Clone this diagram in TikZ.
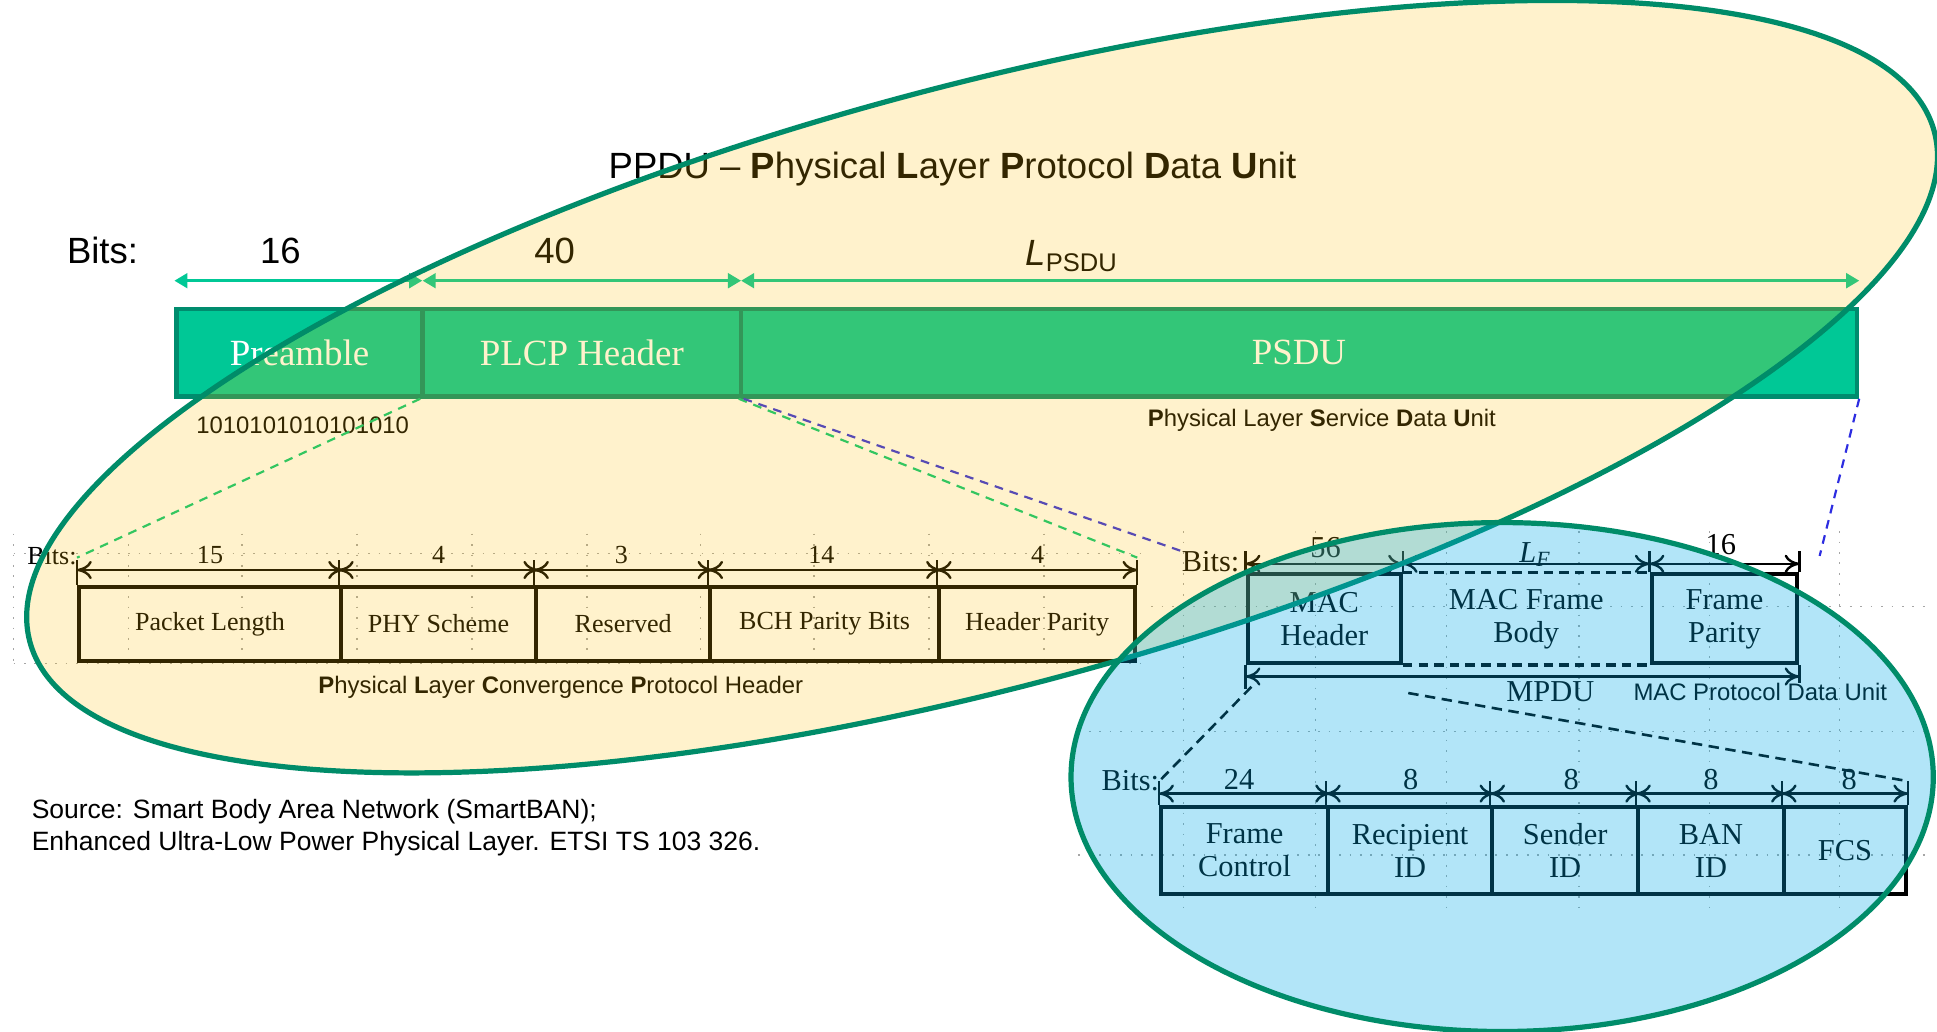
\documentclass[tikz,border=0pt]{standalone}
\usepackage{fontspec}
\setmainfont{Liberation Sans}
\newfontfamily\timesfont{Liberation Serif}
\usetikzlibrary{arrows.meta}

\definecolor{barteal}{RGB}{0,200,150}
\definecolor{barline}{RGB}{0,140,110}
\definecolor{ringgreen}{RGB}{0,140,105}
\definecolor{goldfill}{RGB}{255,190,0}
\definecolor{skyfill}{RGB}{0,172,232}
\definecolor{linkgreen}{RGB}{0,200,120}
\definecolor{linkblue}{RGB}{45,45,225}

\begin{document}
\begin{tikzpicture}[x=0.01cm, y=-0.01cm]
        % Define styles
        \tikzset{
            fieldbox/.style={rectangle, draw=barline, line width=1pt, fill=barteal, text=white, inner sep=0pt, minimum height=0.71cm, font=\timesfont\fontsize{8.5}{10}\selectfont},
            bitbox/.style={rectangle, draw, line width=0.9pt, inner sep=0pt, minimum height=0.60cm, font=\timesfont\fontsize{6}{7}\selectfont},
            macbox/.style={rectangle, draw, line width=0.9pt, inner sep=0pt, align=center, font=\timesfont\fontsize{7}{7.6}\selectfont},
            toplabel/.style={inner sep=0pt, font=\fontsize{8.4}{10}\selectfont},
            smalllabel/.style={inner sep=0pt, font=\fontsize{5.5}{6.6}\selectfont},
            serlabel/.style={inner sep=0pt, font=\timesfont\fontsize{6}{7}\selectfont},
            maclabel/.style={inner sep=0pt, font=\timesfont\fontsize{7}{8}\selectfont},
            toparrow/.style={{Triangle[length=3pt,width=3.4pt]}-{Triangle[length=3pt,width=3.4pt]}, draw=barteal, line width=0.6pt},
            dimarrow/.style={{To[length=3.4pt,width=4.2pt]}-{To[length=3.4pt,width=4.2pt]}, line width=0.55pt},
            dimtick/.style={line width=0.55pt},
            linkline/.style={line width=0.5pt, dash pattern=on 2pt off 1.6pt},
            griddot/.style={gray!70, line width=0.35pt, dash pattern=on 0.4pt off 2pt},
            ring/.style={draw=ringgreen, line width=1.2pt}
        }
        \useasboundingbox (0,0) rectangle (1568,835);
        \fill[white] (0,0) rectangle (1568,835);

        % Grid of the pasted figures
        \draw[griddot] (11,432) -- (11,540) (104,432) -- (104,540) (196,432) -- (196,540) (289,432) -- (289,540) (382,432) -- (382,540) (475,432) -- (475,540) (567,432) -- (567,540) (659,432) -- (659,540) (752,432) -- (752,540) (845,432) -- (845,540);
        \draw[griddot] (11,448) -- (925,448) (11,537) -- (925,537);
        \draw[griddot] (958,430) -- (958,735) (1065,430) -- (1065,735) (1171,430) -- (1171,735) (1278,430) -- (1278,735) (1384,430) -- (1384,735) (1489,430) -- (1489,735);
        \draw[griddot] (932,491) -- (1559,491) (873,592) -- (1559,592) (873,692) -- (1559,692);

        % Nodes
        \node[toplabel] (ppdu_title) at (771,137) {PPDU – \textbf{P}hysical \textbf{L}ayer \textbf{P}rotocol \textbf{D}ata \textbf{U}nit};
        \node[toplabel] (bits_top) at (83,203) {Bits:};
        \node[toplabel] (len_preamble) at (227,203) {16};
        \node[toplabel] (len_plcp) at (449,203) {40};
        \node[toplabel] (len_psdu) at (868,207) {\textit{L}\textsubscript{PSDU}};
        \node[fieldbox, minimum width=1.99cm] (field_node_1) at (242.5,285.5) {Preamble};
        \node[fieldbox, minimum width=2.58cm] (field_node_2) at (471,285.5) {PLCP Header};
        \node[fieldbox, minimum width=9.03cm] (field_node_3) at (1051.5,285.5) {PSDU};
        \node[smalllabel] (preamble_bits) at (245,344) {1010101010101010};
        \node[smalllabel] (psdu_caption) at (1070,340) {\textbf{P}hysical Layer \textbf{S}ervice \textbf{D}ata \textbf{U}nit};

        % PLCP header
        \node[serlabel] (bits_plcp) at (42,450) {Bits:};
        \node[bitbox, minimum width=2.12cm] (plcp_node_1) at (170,505) {Packet Length};
        \node[bitbox, minimum width=1.58cm] (plcp_node_2) at (355,505) {PHY Scheme};
        \node[bitbox, minimum width=1.41cm] (plcp_node_3) at (504.5,505) {Reserved};
        \node[bitbox, minimum width=1.85cm] (plcp_node_4) at (667.5,505) {BCH Parity Bits};
        \node[bitbox, minimum width=1.59cm] (plcp_node_5) at (839.5,505) {Header Parity};
        \node[serlabel] () at (170,449) {15};
        \node[serlabel] () at (355,449) {4};
        \node[serlabel] () at (503,449) {3};
        \node[serlabel] () at (665,449) {14};
        \node[serlabel] () at (840,449) {4};
        \node[smalllabel] (plcp_caption) at (454,556) {\textbf{P}hysical \textbf{L}ayer \textbf{C}onvergence \textbf{P}rotocol Header};

        % MAC frame
        \node[maclabel] (bits_mac) at (980,455) {Bits:};
        \node[macbox, minimum width=1.24cm, minimum height=0.72cm] (mac_node_1) at (1072,501) {MAC\\Header};
        \node[macbox, draw=none, minimum width=2.03cm, minimum height=0.72cm] (mac_node_2) at (1235.5,501) {MAC Frame\\Body};
        \node[macbox, minimum width=1.18cm, minimum height=0.72cm] (mac_node_3) at (1396,501) {Frame\\Parity};
        \node[maclabel] () at (1073,443) {56};
        \node[maclabel] () at (1243,449) {\itshape L\textsubscript{F}};
        \node[maclabel] () at (1393,441) {16};
        \node[maclabel] (mpdu_label) at (1255,560) {MPDU};
        \node[smalllabel] (mpdu_caption) at (1425,560) {MAC Protocol Data Unit};
        \coordinate (mac_corner) at (1473,450);
        \coordinate (mpdu_start) at (1013,556);
        \coordinate (mpdu_split) at (1140,561);

        % MAC header fields
        \node[maclabel] (bits_hdr) at (915,632) {Bits:};
        \node[macbox, minimum width=1.35cm, minimum height=0.71cm] (hdr_node_1) at (1007.5,688.5) {Frame\\Control};
        \node[macbox, minimum width=1.33cm, minimum height=0.71cm] (hdr_node_2) at (1141.5,688.5) {Recipient\\ID};
        \node[macbox, minimum width=1.18cm, minimum height=0.71cm] (hdr_node_3) at (1267,688.5) {Sender\\ID};
        \node[macbox, minimum width=1.18cm, minimum height=0.71cm] (hdr_node_4) at (1385,688.5) {BAN\\ID};
        \node[macbox, minimum width=0.99cm, minimum height=0.71cm] (hdr_node_5) at (1493.5,688.5) {FCS};
        \node[maclabel] () at (1003,631) {24};
        \node[maclabel] () at (1142,631) {8};
        \node[maclabel] () at (1272,631) {8};
        \node[maclabel] () at (1385,631) {8};
        \node[maclabel] () at (1497,631) {8};

        \node[smalllabel, anchor=west, align=left, font=\fontsize{6.1}{7.4}\selectfont] (source_note) at (25,670) {Source: Smart Body Area Network (SmartBAN);\\Enhanced Ultra-Low Power Physical Layer. ETSI TS 103 326.};

        % Arrows
        \draw[toparrow] ([yshift=0.21cm]field_node_1.north west) -- ([yshift=0.21cm, xshift=-0.02cm]field_node_1.north east);
        \draw[toparrow] ([yshift=0.21cm, xshift=0.02cm]field_node_2.north west) -- ([yshift=0.21cm, xshift=-0.02cm]field_node_2.north east);
        \draw[toparrow] ([yshift=0.21cm, xshift=0.02cm]field_node_3.north west) -- ([yshift=0.21cm]field_node_3.north east);

        \draw[dimtick] (plcp_node_1.north west) -- ++(0,-20);
        \draw[dimtick] (plcp_node_2.north west) -- ++(0,-20);
        \draw[dimtick] (plcp_node_3.north west) -- ++(0,-20);
        \draw[dimtick] (plcp_node_4.north west) -- ++(0,-20);
        \draw[dimtick] (plcp_node_5.north west) -- ++(0,-20);
        \draw[dimtick] (plcp_node_5.north east) -- ++(0,-20);
        \draw[dimarrow] ([yshift=0.12cm]plcp_node_1.north west) -- ([yshift=0.12cm]plcp_node_1.north east);
        \draw[dimarrow] ([yshift=0.12cm]plcp_node_2.north west) -- ([yshift=0.12cm]plcp_node_2.north east);
        \draw[dimarrow] ([yshift=0.12cm]plcp_node_3.north west) -- ([yshift=0.12cm]plcp_node_3.north east);
        \draw[dimarrow] ([yshift=0.12cm]plcp_node_4.north west) -- ([yshift=0.12cm]plcp_node_4.north east);
        \draw[dimarrow] ([yshift=0.12cm]plcp_node_5.north west) -- ([yshift=0.12cm]plcp_node_5.north east);

        \draw[line width=0.9pt, dash pattern=on 2.2pt off 1.4pt] (mac_node_1.north east) -- (mac_node_3.north west);
        \draw[line width=0.9pt, dash pattern=on 2.2pt off 1.4pt] (mac_node_1.south east) -- (mac_node_3.south west);
        \draw[dimtick] (mac_node_1.north west) -- ++(0,-17);
        \draw[dimtick] (mac_node_1.north east) -- ++(0,-17);
        \draw[dimtick] (mac_node_3.north west) -- ++(0,-17);
        \draw[dimtick] (mac_node_3.north east) -- ++(0,-17);
        \draw[dimarrow] ([yshift=0.07cm]mac_node_1.north west) -- ([yshift=0.07cm]mac_node_1.north east);
        \draw[dimarrow] ([yshift=0.07cm]mac_node_1.north east) -- ([yshift=0.07cm]mac_node_3.north west);
        \draw[dimarrow] ([yshift=0.07cm]mac_node_3.north west) -- ([yshift=0.07cm]mac_node_3.north east);
        \draw[dimtick] (mac_node_1.south west) -- ++(0,19);
        \draw[dimtick] (mac_node_3.south east) -- ++(0,14);
        \draw[dimarrow] ([yshift=-0.09cm]mac_node_1.south west) -- ([yshift=-0.09cm]mac_node_3.south east);

        \draw[dimtick] (hdr_node_1.north west) -- ++(0,-19);
        \draw[dimtick] (hdr_node_2.north west) -- ++(0,-19);
        \draw[dimtick] (hdr_node_3.north west) -- ++(0,-19);
        \draw[dimtick] (hdr_node_4.north west) -- ++(0,-19);
        \draw[dimtick] (hdr_node_5.north west) -- ++(0,-19);
        \draw[dimtick] (hdr_node_5.north east) -- ++(0,-19);
        \draw[dimarrow] ([yshift=0.09cm]hdr_node_1.north west) -- ([yshift=0.09cm]hdr_node_1.north east);
        \draw[dimarrow] ([yshift=0.09cm]hdr_node_2.north west) -- ([yshift=0.09cm]hdr_node_2.north east);
        \draw[dimarrow] ([yshift=0.09cm]hdr_node_3.north west) -- ([yshift=0.09cm]hdr_node_3.north east);
        \draw[dimarrow] ([yshift=0.09cm]hdr_node_4.north west) -- ([yshift=0.09cm]hdr_node_4.north east);
        \draw[dimarrow] ([yshift=0.09cm]hdr_node_5.north west) -- ([yshift=0.09cm]hdr_node_5.north east);

        % Zoom lines
        \draw[linkline, linkgreen] (field_node_2.south west) -- ([yshift=0.22cm]plcp_node_1.north west);
        \draw[linkline, linkgreen] (field_node_3.south west) -- ([yshift=0.22cm]plcp_node_5.north east);
        \draw[linkline, linkblue] ([xshift=0.04cm]field_node_3.south west) -- (bits_mac.north west);
        \draw[linkline, linkblue] (field_node_3.south east) -- (mac_corner);
        \draw[line width=0.6pt, dash pattern=on 2.4pt off 1.5pt] (mpdu_start) -- ([yshift=0.19cm]hdr_node_1.north west);
        \draw[line width=0.6pt, dash pattern=on 2.4pt off 1.5pt] (mpdu_split) -- ([yshift=0.19cm]hdr_node_5.north east);

        % Highlight ellipses
        \draw[ring, fill=goldfill, fill opacity=0.2, rotate around={15:(795,313)}] (795,313) ellipse [x radius=798, y radius=243];
        \draw[ring, fill=skyfill, fill opacity=0.3] (1216,629) ellipse [x radius=349, y radius=206];
    \end{tikzpicture}
\end{document}
